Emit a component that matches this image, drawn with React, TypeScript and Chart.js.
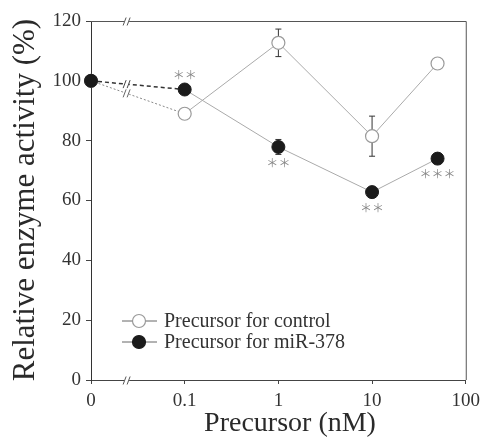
import React, { useEffect, useRef } from "react";
import { Chart, registerables } from "chart.js";

Chart.register(...registerables);

// ---- data ----
const concentrations = [0, 0.1, 1, 10, 50];
const zeroPosition = 0.01; // where "0" sits on the log axis
const breakPosition = 0.024; // axis break between 0 and 0.1
const xTickValues = [0.01, 0.1, 1, 10, 100];
const xTickLabels = ["0", "0.1", "1", "10", "100"];
const yTickValues = [0, 20, 40, 60, 80, 100, 120];
const controlValues = [100, 89, 112.7, 81.5, 105.8];
const controlErrors = [0, 0, 4.6, 6.7, 0];
const mirValues = [100, 97.1, 77.9, 62.8, 74.0];
const mirErrors = [0, 0, 2.5, 0, 0];
const mirSignificance = ["", "**", "**", "**", "***"];
const mirSignificanceSide = ["", "above", "below", "below", "below"];
const seriesLabels = ["Precursor for control", "Precursor for miR-378"];
const xTitle = "Precursor (nM)";
const yTitle = "Relative enzyme activity (%)";

const SERIF = "'Liberation Serif', 'DejaVu Serif', serif";

const toX = (c: number) => (c === 0 ? zeroPosition : c);

function drawBreak(ctx: CanvasRenderingContext2D, x: number, y: number, color: string) {
  ctx.save();
  ctx.fillStyle = "#ffffff";
  ctx.fillRect(x - 2.5, y - 3, 5, 6);
  ctx.strokeStyle = color;
  ctx.lineWidth = 1;
  ctx.beginPath();
  ctx.moveTo(x - 3.5, y + 4);
  ctx.lineTo(x - 0.5, y - 4);
  ctx.moveTo(x + 0.5, y + 4);
  ctx.lineTo(x + 3.5, y - 4);
  ctx.stroke();
  ctx.restore();
}

const customPlugin = {
  id: "customDecor",
  beforeDatasetsDraw(chart: any) {
    const ctx = chart.ctx as CanvasRenderingContext2D;
    const xs = chart.scales.x;
    const ys = chart.scales.y;
    const drawErr = (vals: number[], errs: number[]) => {
      vals.forEach((v, i) => {
        const e = errs[i];
        if (!e) return;
        const px = xs.getPixelForValue(toX(concentrations[i]));
        const top = ys.getPixelForValue(v + e);
        const bot = ys.getPixelForValue(v - e);
        ctx.save();
        ctx.strokeStyle = "#333";
        ctx.lineWidth = 1;
        ctx.beginPath();
        ctx.moveTo(px, top);
        ctx.lineTo(px, bot);
        ctx.moveTo(px - 3, top);
        ctx.lineTo(px + 3, top);
        ctx.moveTo(px - 3, bot);
        ctx.lineTo(px + 3, bot);
        ctx.stroke();
        ctx.restore();
      });
    };
    drawErr(controlValues, controlErrors);
    drawErr(mirValues, mirErrors);
  },
  afterDatasetsDraw(chart: any) {
    const ctx = chart.ctx as CanvasRenderingContext2D;
    const xs = chart.scales.x;
    const ys = chart.scales.y;
    // significance marks
    ctx.save();
    ctx.fillStyle = "#888";
    ctx.font = "12px 'Noto Sans CJK JP', 'DejaVu Sans', sans-serif";
    ctx.textAlign = "center";
    ctx.textBaseline = "middle";
    mirSignificance.forEach((s, i) => {
      if (!s) return;
      const px = xs.getPixelForValue(toX(concentrations[i]));
      const py = ys.getPixelForValue(mirValues[i]);
      const txt = s.replace(/\*/g, "＊");
      const dy = mirSignificanceSide[i] === "above" ? -14 : 16;
      ctx.fillText(txt, px, py + dy);
    });
    ctx.restore();
    // breaks on the first segments
    const bx = xs.getPixelForValue(breakPosition);
    const interp = (vals: number[]) => {
      const x0 = xs.getPixelForValue(toX(concentrations[0]));
      const x1 = xs.getPixelForValue(toX(concentrations[1]));
      const y0 = ys.getPixelForValue(vals[0]);
      const y1 = ys.getPixelForValue(vals[1]);
      return y0 + ((bx - x0) / (x1 - x0)) * (y1 - y0);
    };
    drawBreak(ctx, bx, interp(mirValues), "#444");
    drawBreak(ctx, bx, interp(controlValues), "#666");
  },
  afterDraw(chart: any) {
    const ctx = chart.ctx as CanvasRenderingContext2D;
    const { left, right, top, bottom } = chart.chartArea;
    const xs = chart.scales.x;
    // frame top and right
    ctx.save();
    ctx.strokeStyle = "#555";
    ctx.lineWidth = 1;
    ctx.beginPath();
    ctx.moveTo(left, top + 0.5);
    ctx.lineTo(right + 0.5, top + 0.5);
    ctx.lineTo(right + 0.5, bottom);
    ctx.stroke();
    ctx.restore();
    const bx = xs.getPixelForValue(breakPosition);
    drawBreak(ctx, bx, top + 0.5, "#555");
    drawBreak(ctx, bx, bottom + 0.5, "#555");

    // titles
    ctx.save();
    ctx.fillStyle = "#2a2a2a";
    ctx.font = `28px ${SERIF}`;
    ctx.textAlign = "center";
    ctx.textBaseline = "alphabetic";
    ctx.fillText(xTitle, 290, 431);
    ctx.translate(34, 200);
    ctx.rotate(-Math.PI / 2);
    ctx.font = `31px ${SERIF}`;
    ctx.fillText(yTitle, 0, 0);
    ctx.restore();

    // legend
    const entries = [
      { label: seriesLabels[0], fill: "#ffffff", stroke: "#999" },
      { label: seriesLabels[1], fill: "#1b1b1b", stroke: "#1b1b1b" },
    ];
    entries.forEach((e, i) => {
      const cy = 321 + i * 21;
      ctx.save();
      ctx.strokeStyle = "#666";
      ctx.lineWidth = 1;
      ctx.beginPath();
      ctx.moveTo(122, cy);
      ctx.lineTo(157, cy);
      ctx.stroke();
      ctx.beginPath();
      ctx.arc(139, cy, 6.5, 0, Math.PI * 2);
      ctx.fillStyle = e.fill;
      ctx.fill();
      ctx.strokeStyle = e.stroke;
      ctx.lineWidth = 1.2;
      ctx.stroke();
      ctx.fillStyle = "#333";
      ctx.font = `20px ${SERIF}`;
      ctx.textAlign = "left";
      ctx.textBaseline = "middle";
      ctx.fillText(e.label, 164, cy + 1);
      ctx.restore();
    });
  },
};

export default function App() {
  const canvasRef = useRef<HTMLCanvasElement | null>(null);

  useEffect(() => {
    document.body.style.margin = "0";
    const canvas = canvasRef.current;
    if (!canvas) return;
    const chart = new Chart(canvas, {
      type: "line",
      data: {
        datasets: [
          {
            label: seriesLabels[0],
            order: 1,
            clip: false,
            data: concentrations.map((c, i) => ({ x: toX(c), y: controlValues[i] })),
            borderColor: "#aaa",
            borderWidth: 1,
            pointRadius: 6.5,
            pointBackgroundColor: "#ffffff",
            pointBorderColor: "#999",
            pointBorderWidth: 1.2,
            segment: {
              borderDash: (c: any) => (c.p0DataIndex === 0 ? [2, 2] : undefined),
              borderColor: (c: any) => (c.p0DataIndex === 0 ? "#888" : undefined),
            },
          },
          {
            label: seriesLabels[1],
            order: 0,
            clip: false,
            data: concentrations.map((c, i) => ({ x: toX(c), y: mirValues[i] })),
            borderColor: "#aaa",
            borderWidth: 1,
            pointRadius: 6.5,
            pointBackgroundColor: "#1b1b1b",
            pointBorderColor: "#1b1b1b",
            pointBorderWidth: 1,
            segment: {
              borderDash: (c: any) => (c.p0DataIndex === 0 ? [4, 3] : undefined),
              borderColor: (c: any) => (c.p0DataIndex === 0 ? "#333" : undefined),
              borderWidth: (c: any) => (c.p0DataIndex === 0 ? 1.5 : undefined),
            },
          },
        ],
      },
      options: {
        animation: false,
        responsive: false,
        devicePixelRatio: 1,
        layout: { padding: { top: 21, right: 19, left: 0, bottom: 0 } },
        plugins: {
          legend: { display: false },
          tooltip: { enabled: false },
          title: { display: false },
        },
        scales: {
          x: {
            type: "logarithmic",
            min: xTickValues[0],
            max: xTickValues[xTickValues.length - 1],
            afterBuildTicks: (scale: any) => {
              scale.ticks = xTickValues.map((v) => ({ value: v }));
            },
            afterFit: (scale: any) => {
              scale.height = 61;
            },
            ticks: {
              autoSkip: false,
              maxRotation: 0,
              padding: 6,
              color: "#333",
              font: { family: SERIF, size: 19 },
              callback: (v: any) => {
                const idx = xTickValues.indexOf(Number(v));
                return idx >= 0 ? xTickLabels[idx] : "";
              },
            },
            grid: {
              drawOnChartArea: false,
              drawTicks: true,
              tickLength: 4,
              color: "#444",
            },
            border: { display: true, color: "#444", width: 1 },
          },
          y: {
            type: "linear",
            min: 0,
            max: 120,
            afterBuildTicks: (scale: any) => {
              scale.ticks = yTickValues.map((v) => ({ value: v }));
            },
            afterFit: (scale: any) => {
              scale.width = 91;
            },
            ticks: {
              padding: 5,
              color: "#333",
              font: { family: SERIF, size: 19 },
            },
            grid: {
              drawOnChartArea: false,
              drawTicks: true,
              tickLength: 5,
              color: "#444",
            },
            border: { display: true, color: "#333", width: 1 },
          },
        },
      },
      plugins: [customPlugin],
    } as any);
    return () => chart.destroy();
  }, []);

  return (
    <div style={{ width: 486, height: 441, background: "#fff" }}>
      <canvas ref={canvasRef} width={486} height={441} style={{ width: 486, height: 441, display: "block" }} />
    </div>
  );
}
